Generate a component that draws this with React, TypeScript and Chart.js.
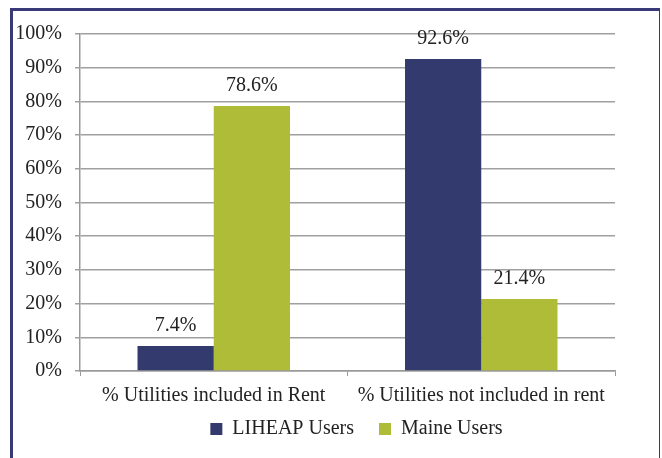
import React, { useEffect, useRef } from "react";
import { Chart, registerables } from "chart.js";

Chart.register(...registerables);

const categories = ["% Utilities included in Rent", "% Utilities not included in rent"];
const liheapUsers = [7.4, 92.6];
const maineUsers = [78.6, 21.4];
const seriesNames = ["LIHEAP Users", "Maine Users"];
const seriesColors = ["#333b6e", "#afbc38"];

const FONT = "'Liberation Serif', 'DejaVu Serif', serif";
const FS = 20;

const valueLabels = {
  id: "valueLabels",
  afterDatasetsDraw(chart: any) {
    const ctx = chart.ctx;
    ctx.save();
    ctx.font = `${FS}px ${FONT}`;
    ctx.fillStyle = "#222";
    ctx.textAlign = "center";
    ctx.textBaseline = "bottom";
    chart.data.datasets.forEach((ds: any, i: number) => {
      const meta = chart.getDatasetMeta(i);
      meta.data.forEach((bar: any, j: number) => {
        ctx.fillText(ds.data[j].toFixed(1) + "%", bar.x, bar.y - 10);
      });
    });
    ctx.restore();
  },
};

const shiftLegend = {
  id: "shiftLegend",
  afterLayout(chart: any) {
    const lg = chart.legend;
    if (lg) {
      lg.left += 9;
      lg.right += 9;
      lg.top -= 22;
      lg.bottom -= 22;
    }
  },
};

export default function App() {
  const ref = useRef<HTMLCanvasElement>(null);
  useEffect(() => {
    const chart = new Chart(ref.current!, {
      type: "bar",
      data: {
        labels: categories,
        datasets: [
          { label: seriesNames[0], data: liheapUsers, backgroundColor: seriesColors[0] },
          { label: seriesNames[1], data: maineUsers, backgroundColor: seriesColors[1] },
        ],
      },
      options: {
        animation: false,
        responsive: false,
        layout: { padding: { left: 10, right: 47, top: 34, bottom: -13 } },
        datasets: { bar: { categoryPercentage: 0.57, barPercentage: 1 } },
        scales: {
          x: {
            grid: { display: true, drawOnChartArea: false, offset: true, tickLength: 5, color: "#999" },
            border: { color: "#999", width: 1.5 },
            ticks: { color: "#222", font: { family: FONT, size: FS }, padding: 8 },
          },
          y: {
            min: 0,
            max: 100,
            afterFit: (s: any) => { s.width = 70; },
            grid: { color: "#a0a0a0", lineWidth: 1.5, tickLength: 5 },
            border: { color: "#999", width: 1.5 },
            ticks: {
              stepSize: 10,
              color: "#222",
              padding: 13,
              font: { family: FONT, size: FS },
              callback: (v: any) => v + "%",
            },
          },
        },
        plugins: {
          legend: {
            position: "bottom",
            fullSize: false,
            labels: {
              color: "#222",
              boxWidth: 12,
              boxHeight: 12,
              padding: 25,
              font: { family: FONT, size: FS },
            },
          },
          tooltip: { enabled: false },
        },
      },
      plugins: [valueLabels, shiftLegend],
    });
    return () => chart.destroy();
  }, []);
  return (
    <div style={{ position: "fixed", left: 0, top: 0, width: 662, height: 458, background: "#fff" }}>
      <div
        style={{
          position: "absolute",
          left: 10,
          top: 8,
          width: 646,
          height: 470,
          borderTop: "3px solid #3a3a78",
          borderLeft: "3px solid #3a3a78",
          borderRight: "1px solid #3a3a78",
        }}
      />
      <canvas ref={ref} width={662} height={458} style={{ position: "absolute", left: 0, top: 0 }} />
    </div>
  );
}
